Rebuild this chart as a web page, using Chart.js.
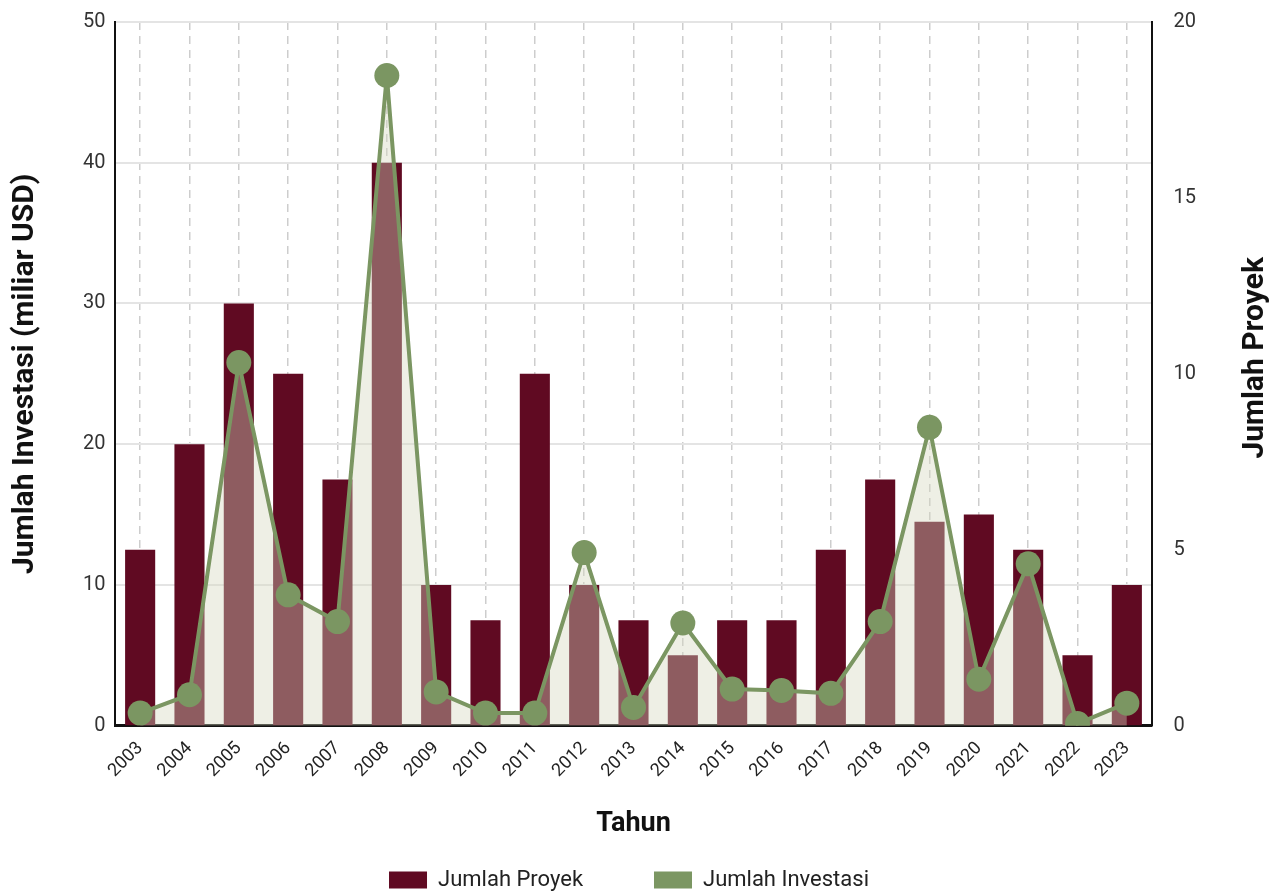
<!DOCTYPE html>
<html>
<head>
<meta charset="utf-8">
<script src="https://cdn.jsdelivr.net/npm/chart.js@4.4.1/dist/chart.umd.min.js"></script>
<style>
  html, body { margin: 0; padding: 0; background: #fff; }
  #wrap { width: 1276px; height: 891px; }
</style>
</head>
<body>
<div id="wrap"><canvas id="mycanvas"></canvas></div>
<script>
// data
var tahun = ['2003','2004','2005','2006','2007','2008','2009','2010','2011','2012','2013',
             '2014','2015','2016','2017','2018','2019','2020','2021','2022','2023'];
var jumlahProyek = [5, 8, 12, 10, 7, 16, 4, 3, 10, 4, 3, 2, 3, 3, 5, 7, 5.8, 6, 5, 2, 4];
var jumlahInvestasi = [0.9, 2.2, 25.8, 9.3, 7.4, 46.2, 2.4, 0.9, 0.9, 12.3, 1.3,
                       7.3, 2.6, 2.5, 2.3, 7.4, 21.2, 3.3, 11.5, 0.15, 1.6];
var ticksKiri = [0, 10, 20, 30, 40, 50];
var ticksKanan = [0, 5, 10, 15, 20];

var merah = '#600a22';
var hijau = '#7b9662';
var fontName = 'Roboto';

// right axis title drawn reading upwards, like the left one
var judulKanan = {
  id: 'judulKanan',
  afterDraw: function(chart) {
    var c = chart.ctx;
    var area = chart.chartArea;
    c.save();
    c.translate(1255, (area.top + area.bottom) / 2 - 16);
    c.rotate(-Math.PI / 2);
    c.font = 'bold 30px ' + fontName;
    c.fillStyle = '#111';
    c.textAlign = 'center';
    c.textBaseline = 'middle';
    c.fillText('Jumlah Proyek', 0, 0);
    c.restore();
  }
};

var chartdata = {
  labels: tahun,
  datasets: [
    {
      type: 'bar',
      label: 'Jumlah Proyek',
      data: jumlahProyek,
      yAxisID: 'y1',
      backgroundColor: merah,
      borderWidth: 0,
      categoryPercentage: 1,
      barPercentage: 0.61,
      order: 1
    },
    {
      type: 'line',
      label: 'Jumlah Investasi',
      data: jumlahInvestasi,
      yAxisID: 'y',
      borderColor: hijau,
      borderWidth: 4,
      backgroundColor: 'rgba(212, 216, 190, 0.4)',
      fill: 'origin',
      tension: 0,
      pointRadius: 12.5,
      pointHoverRadius: 12.5,
      pointBackgroundColor: hijau,
      pointBorderColor: hijau,
      pointBorderWidth: 0,
      order: 0
    }
  ]
};

var ctx = document.getElementById('mycanvas');

var comboChart = new Chart(ctx, {
  data: chartdata,
  plugins: [judulKanan],
  options: {
    responsive: true,
    maintainAspectRatio: false,
    animation: false,
    layout: { autoPadding: false, padding: { top: 10, left: 7, right: 25, bottom: -10 } },
    plugins: {
      tooltip: { enabled: false },
      legend: {
        position: 'bottom',
        labels: {
          font: { family: fontName, size: 22 },
          color: '#222',
          boxWidth: 38,
          boxHeight: 17,
          padding: 0,
          sort: function(a, b) { return a.datasetIndex - b.datasetIndex; },
          generateLabels: function(chart) {
            return chart.data.datasets.map(function(ds, i) {
              var warna = ds.type === 'bar' ? merah : hijau;
              return {
                text: i === 0 ? ds.label + '             ' : ds.label,
                fillStyle: warna,
                strokeStyle: warna,
                lineWidth: 0,
                fontColor: '#222',
                hidden: false,
                datasetIndex: i
              };
            });
          }
        }
      }
    },
    scales: {
      x: {
        offset: true,
        grid: {
          offset: false,
          drawTicks: false,
          color: '#cdcdcd',
          lineWidth: 1.5
        },
        border: { display: true, color: '#111', width: 3, dash: [8, 6] },
        ticks: {
          minRotation: 45,
          maxRotation: 45,
          padding: 12,
          color: '#222',
          font: { family: fontName, size: 18 }
        },
        title: {
          display: true,
          text: 'Tahun',
          color: '#111',
          font: { family: fontName, size: 27, weight: 'bold' },
          padding: { top: 14, bottom: 29 }
        }
      },
      y: {
        position: 'left',
        min: 0,
        max: 50,
        z: 1,
        afterBuildTicks: function(axis) {
          axis.ticks = ticksKiri.map(function(v) { return { value: v }; });
        },
        grid: {
          drawTicks: false,
          lineWidth: 2,
          color: function(c) { return c.tick && c.tick.value === 0 ? 'rgba(0,0,0,0)' : '#e4e4e4'; }
        },
        border: { display: true, color: '#111', width: 2 },
        ticks: {
          padding: 10,
          color: '#333',
          font: { family: fontName, size: 20 }
        },
        title: {
          display: true,
          text: 'Jumlah Investasi (miliar USD)',
          color: '#111',
          font: { family: fontName, size: 30, weight: 'bold' },
          padding: { top: 0, bottom: 30 }
        }
      },
      y1: {
        position: 'right',
        min: 0,
        max: 20,
        afterBuildTicks: function(axis) {
          axis.ticks = ticksKanan.map(function(v) { return { value: v }; });
        },
        afterFit: function(axis) {
          axis.width += 33;
          axis.paddingTop = 0;
          axis.paddingBottom = 0;
        },
        grid: { drawOnChartArea: false, drawTicks: false },
        border: { display: true, color: '#111', width: 2 },
        ticks: {
          padding: 22,
          color: '#333',
          font: { family: fontName, size: 20 }
        }
      }
    }
  }
});
</script>
</body>
</html>
